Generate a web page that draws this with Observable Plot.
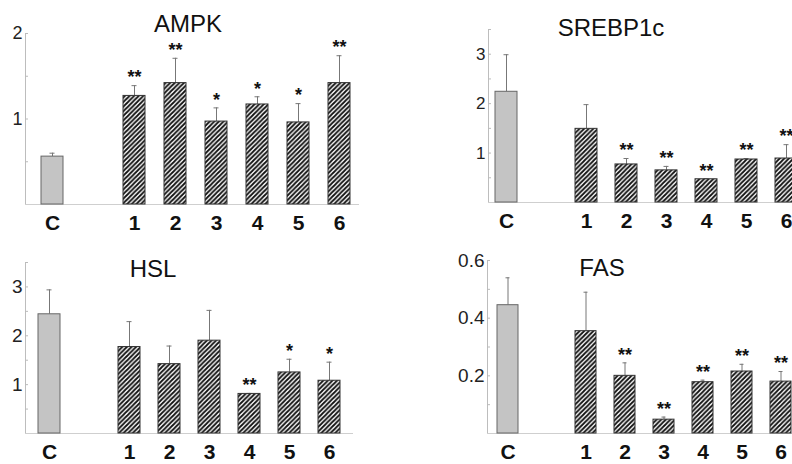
<!DOCTYPE html>
<html><head><meta charset="utf-8">
<script src="https://cdn.jsdelivr.net/npm/d3@7"></script>
<script src="https://cdn.jsdelivr.net/npm/@observablehq/plot@0.6"></script>
<style>
body{margin:0;background:#fff;}
#root{position:relative;width:792px;height:464px;overflow:hidden;background:#fff;font-family:"Liberation Sans",Arial,sans-serif;}
.panel{position:absolute;}
.title{position:absolute;font-size:24px;line-height:24px;color:#111;transform:translateX(-50%);white-space:nowrap;}
</style></head><body>
<svg width="0" height="0" style="position:absolute"><defs><pattern id="hatch" patternUnits="userSpaceOnUse" width="4.6" height="4.6"><rect width="4.6" height="4.6" fill="#fff"/><path d="M-1,1 L1,-1 M0,4.6 L4.6,0 M3.6,5.6 L5.6,3.6" stroke="#111" stroke-width="1.8"/></pattern></defs></svg>
<div id="root"></div>
<script>
const groups = ["C","1","2","3","4","5","6"];
const slots = ["C","","1","2","3","4","5","6"];

const ampkMean = [0.56,1.27,1.42,0.97,1.17,0.96,1.42];
const ampkTop  = [0.60,1.39,1.71,1.13,1.26,1.18,1.74];
const ampkStars = ["","**","**","*","*","*","**"];

const srebpMean = [2.24,1.49,0.77,0.65,0.47,0.87,0.89];
const srebpTop  = [2.99,1.98,0.89,0.73,0.48,0.89,1.17];
const srebpStars = ["","","**","**","**","**","**"];

const hslMean = [2.44,1.77,1.42,1.90,0.81,1.25,1.08];
const hslTop  = [2.94,2.29,1.79,2.52,0.82,1.52,1.46];
const hslStars = ["","","","","**","*","*"];

const fasMean = [0.445,0.355,0.20,0.048,0.178,0.215,0.18];
const fasTop  = [0.54,0.49,0.245,0.057,0.185,0.24,0.215];
const fasStars = ["","","**","**","**","**","**"];

const root = document.getElementById("root");

function panel(o) {
  const data = groups.map((g,i)=>({g, mean:o.mean[i], top:o.top[i], star:o.stars[i]}));
  const chart = Plot.plot({
    width:o.width, height:o.height,
    marginLeft:o.mL, marginRight:o.mR, marginTop:o.mT, marginBottom:o.mB,
    style:{fontFamily:"Liberation Sans, Arial, sans-serif", background:"transparent", overflow:"visible"},
    x:{domain:slots, range:o.xr, padding:0.46, axis:null},
    y:{domain:o.yDomain, axis:null},
    marks:[
      Plot.frame({anchor:"left", stroke:"#bdbdbd"}),
      Plot.frame({anchor:"bottom", stroke:"#cfcfcf"}),
      Plot.axisY(o.minor, {tickSize:-3, stroke:"#bbb", tickFormat:()=>"", label:null}),
      Plot.axisY(o.major, {tickSize:0, tickPadding:3, fontSize:o.fs, fill:"#222", tickFormat:d=>String(d), label:null}),
      Plot.axisX(slots, {tickSize:0, tickPadding:11, fontSize:21, fontWeight:"bold", fill:"#111", label:null}),
      Plot.ruleX(data, {x:"g", y1:"mean", y2:"top", stroke:"#777"}),
      Plot.tickY(data, {x:"g", y:"top", stroke:"#777", insetLeft:8.5, insetRight:8.5}),
      Plot.barY(data.filter(d=>d.g==="C"), {x:"g", y:"mean", fill:"#c4c4c4", stroke:"#666"}),
      Plot.barY(data.filter(d=>d.g!=="C"), {x:"g", y:"mean", fill:"url(#hatch)", stroke:"#333"}),
      Plot.text(data, {x:"g", y:"top", text:"star", dy:-8, fontSize:18, fontWeight:"bold", fill:"#111"})
    ]
  });
  chart.classList.add("panel");
  chart.style.left = o.left + "px";
  chart.style.top = o.topPx + "px";
  root.appendChild(chart);
  const t = document.createElement("div");
  t.className = "title";
  t.textContent = o.title;
  t.style.left = o.tx + "px";
  t.style.top = o.ty + "px";
  root.appendChild(t);
}

panel({title:"AMPK", tx:188, ty:12, mean:ampkMean, top:ampkTop, stars:ampkStars,
  left:0, topPx:0, width:400, height:240, mL:25, mR:42, mT:33, mB:36, xr:[22,369],
  yDomain:[0,2], major:[1,2], minor:[0.5,1,1.5,2], fs:18});
panel({title:"SREBP1c", tx:611, ty:16, mean:srebpMean, top:srebpTop, stars:srebpStars,
  left:400, topPx:0, width:440, height:240, mL:88, mR:19, mT:29, mB:38, xr:[73.8,418.1],
  yDomain:[0,3.5], major:[1,2,3], minor:[0.5,1,1.5,2,2.5,3,3.5], fs:17});
panel({title:"HSL", tx:153, ty:257, mean:hslMean, top:hslTop, stars:hslStars,
  left:0, topPx:230, width:400, height:234, mL:25, mR:48, mT:32, mB:31, xr:[17.4,360.9],
  yDomain:[0,3.5], major:[1,2,3], minor:[0.5,1,1.5,2,2.5,3,3.5], fs:19});
panel({title:"FAS", tx:602, ty:256, mean:fasMean, top:fasTop, stars:fasStars,
  left:400, topPx:230, width:440, height:234, mL:87, mR:20, mT:30, mB:31, xr:[76.1,411.1],
  yDomain:[0,0.6], major:[0.2,0.4,0.6], minor:[0.1,0.2,0.3,0.4,0.5,0.6], fs:19});
</script>
</body></html>
